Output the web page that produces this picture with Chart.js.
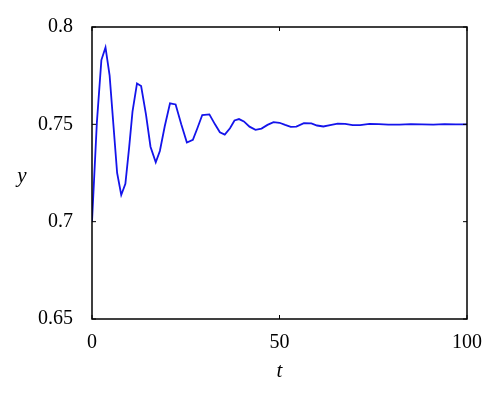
<!DOCTYPE html>
<html>
<head>
<meta charset="utf-8">
<script src="https://cdn.jsdelivr.net/npm/chart.js@4"></script>
<style>
  html, body { margin: 0; padding: 0; background: #fff; }
  #wrap { width: 500px; height: 400px; }
</style>
</head>
<body>
<div id="wrap"><canvas id="chart" width="500" height="400"></canvas></div>
<script>
// Sample times (t) and response values (y)
const tValues = [0, 1.3, 2.5, 3.6, 4.7, 5.7, 6.7, 7.8, 8.9, 9.9, 10.8, 12.0, 13.1, 14.4, 15.6, 17.0,
  18.1, 19.4, 20.8, 22.3, 23.8, 25.3, 26.9, 28.1, 29.4, 31.3, 32.8, 34.1, 35.4, 36.8, 38.0, 39.2,
  40.5, 42.0, 43.6, 45.2, 46.8, 48.4, 50.0, 51.5, 53.0, 54.5, 56.5, 58.5, 60.0, 61.7, 63.5, 65.5,
  67.5, 69.5, 71.5, 74, 76.5, 79, 82, 85, 88, 91, 94, 97, 100];
const yValues = [0.700, 0.751, 0.783, 0.7895, 0.775, 0.750, 0.725, 0.7137, 0.7194, 0.738, 0.7565,
  0.771, 0.7697, 0.755, 0.7385, 0.7305, 0.7363, 0.749, 0.7608, 0.7602, 0.750, 0.7406, 0.742, 0.748,
  0.7548, 0.7551, 0.750, 0.7459, 0.7447, 0.748, 0.752, 0.7527, 0.7515, 0.7488, 0.7472, 0.7478,
  0.7497, 0.7511, 0.7508, 0.7497, 0.7487, 0.7488, 0.7506, 0.7505, 0.7494, 0.7489, 0.7496, 0.7504,
  0.7502, 0.7496, 0.7496, 0.7502, 0.7501, 0.7498, 0.7499, 0.7501, 0.75, 0.7499, 0.7501, 0.75, 0.75];
const xTicks = [0, 50, 100];
const yTicks = [0.65, 0.7, 0.75, 0.8];

const serif = '"Liberation Serif", "DejaVu Serif", serif';

// Box around the plot, inward ticks, and the italic axis letters
const boxPlugin = {
  id: 'box',
  afterDraw(chart) {
    const { ctx, chartArea: a, scales } = chart;
    ctx.save();
    ctx.strokeStyle = '#000';
    ctx.lineWidth = 1.5;
    ctx.strokeRect(a.left, a.top, a.right - a.left, a.bottom - a.top);
    ctx.lineWidth = 1;
    const len = 4;
    xTicks.forEach(v => {
      const x = scales.x.getPixelForValue(v);
      ctx.beginPath();
      ctx.moveTo(x, a.bottom); ctx.lineTo(x, a.bottom - len);
      ctx.moveTo(x, a.top); ctx.lineTo(x, a.top + len);
      ctx.stroke();
    });
    yTicks.forEach(v => {
      const y = scales.y.getPixelForValue(v);
      ctx.beginPath();
      ctx.moveTo(a.left, y); ctx.lineTo(a.left + len, y);
      ctx.moveTo(a.right, y); ctx.lineTo(a.right - len, y);
      ctx.stroke();
    });
    ctx.fillStyle = '#000';
    ctx.font = 'italic 21px ' + serif;
    ctx.textAlign = 'center';
    ctx.textBaseline = 'middle';
    ctx.fillText('t', (a.left + a.right) / 2, 371);
    ctx.fillText('y', 22, 176);
    ctx.restore();
  }
};

new Chart(document.getElementById('chart'), {
  type: 'line',
  data: {
    datasets: [{
      data: tValues.map((t, i) => ({ x: t, y: yValues[i] })),
      borderColor: 'rgb(20, 20, 235)',
      borderWidth: 1.8,
      pointRadius: 0,
      tension: 0,
      fill: false
    }]
  },
  plugins: [boxPlugin],
  options: {
    responsive: false,
    animation: false,
    layout: { padding: { left: 0, right: 33, top: 27, bottom: 0 } },
    plugins: { legend: { display: false }, tooltip: { enabled: false } },
    scales: {
      x: {
        type: 'linear',
        min: 0, max: 100,
        grid: { display: false },
        border: { display: false },
        afterBuildTicks(scale) { scale.ticks = xTicks.map(v => ({ value: v })); },
        afterFit(scale) { scale.height = 81; },
        ticks: {
          color: '#000',
          padding: 4,
          maxRotation: 0,
          font: { family: serif, size: 20 }
        }
      },
      y: {
        min: 0.65, max: 0.8,
        grid: { display: false },
        border: { display: false },
        afterBuildTicks(scale) { scale.ticks = yTicks.map(v => ({ value: v })); },
        afterFit(scale) { scale.width = 92; },
        ticks: {
          color: '#000',
          padding: 11,
          font: { family: serif, size: 20 },
          callback: v => String(parseFloat(Number(v).toFixed(2)))
        }
      }
    }
  }
});
</script>
</body>
</html>
